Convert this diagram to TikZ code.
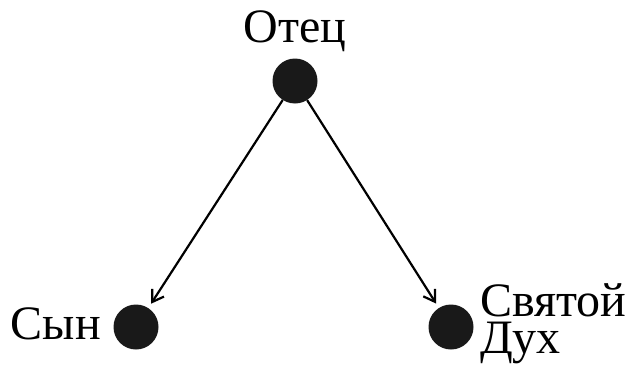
\documentclass[tikz,border=0pt]{standalone}
\usepackage{fontspec}
\setmainfont{Liberation Serif}
\usetikzlibrary{arrows.meta}
\begin{document}
\begin{tikzpicture}[x=1pt,y=-1pt,
  dot/.style={circle,fill=black!90,draw=none,minimum size=45pt,inner sep=0pt},
  lbl/.style={inner sep=0pt,font=\fontsize{48}{37}\selectfont},
  conn/.style={line width=2.2pt,-{Straight Barb[length=11pt,width=14pt,line width=2.2pt]},shorten >=5pt}]
\useasboundingbox (0,0) rectangle (639,372);
\node[dot] (f) at (295,81) {};
\node[dot] (s) at (136,327) {};
\node[dot] (h) at (451,327) {};
\node[lbl,anchor=base] (tf) at (295,42) {Отец};
\node[lbl,anchor=base east] (ts) at (101,339) {Сын};
\node[lbl,anchor=base west,align=left] (th) at (480,353) {Святой\\Дух};
\draw[conn] (f) -- (s);
\draw[conn] (f) -- (h);
\end{tikzpicture}
\end{document}
